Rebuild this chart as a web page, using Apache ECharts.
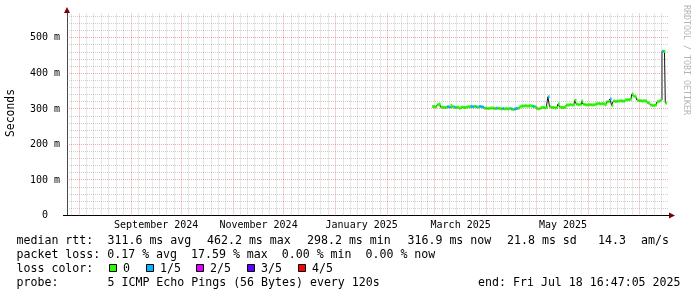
<!DOCTYPE html>
<html><head><meta charset="utf-8">
<script src="https://cdn.jsdelivr.net/npm/echarts@6/dist/echarts.min.js"></script>
<style>html,body{margin:0;padding:0;background:#fff}#c{width:697px;height:297px}</style>
</head><body><div id="c"></div>
<script>
// ---- data ----
const axisStart = '2024-07-24T20:00:00Z';
const axisEnd = '2025-07-18T16:47:05Z';
const firstDate = '2025-02-28';
const medianRtt = [
 307,
 306,306,312,314,305,305,304,305,306,305,
 310,306,305,304,305,302,305,305,304,305,
 306,306,307,306,307,306,305,307,306,305,
 302,302,301,302,303,302,301,302,302,301,
 300,301,300,301,300,301,300,298.2,300,301,
 302,306,308,308,309,308,308,309,308,307,
 306,301,300,302,304,304,303,305,334,306,
 304,304,303,304,314,305,304,304,305,311,
 311,312,311,312,324,313,312,313,322,313,
 312,311,312,312,311,312,313,315,315,314,
 315,314,312,320,321,328,310,322,321,322,
 322,323,322,322,325,326,326,327,342,336,
 334,325,323,323,322,323,322,318,316,311,
 310,310,311,320,322,325,462.2,462,316.9
];
const lossOneFifthDates = ['2025-03-09','2025-03-10','2025-03-13','2025-03-23','2025-03-24','2025-03-26','2025-03-28','2025-03-29','2025-03-30',
  '2025-04-07','2025-04-11','2025-04-16','2025-04-18','2025-04-19','2025-04-29','2025-05-08','2025-06-14','2025-07-15'];
const yTickValues = [0,100,200,300,400,500];
const monthLabels = ['September 2024','November 2024','January 2025','March 2025','May 2025'];
const monthLabelStarts = ['2024-09-01','2024-11-01','2025-01-01','2025-03-01','2025-05-01'];
const lossLegendLabels = ['0','1/5','2/5','3/5','4/5'];
const lossColors = ['#26ff00','#00b8ff','#dd00ff','#5e00ff','#ff0000'];
const rttStats = ['median rtt:','311.6 ms avg','462.2 ms max','298.2 ms min','316.9 ms now','21.8 ms sd','14.3','am/s'];
const lossStatsLine = 'packet loss: 0.17 % avg  17.59 % max  0.00 % min  0.00 % now';
const probeText = ['probe:','5 ICMP Echo Pings (56 Bytes) every 120s'];
const endText = 'end: Fri Jul 18 16:47:05 2025';

// ---- helpers ----
const DAY = 86400000;
const t0 = Date.parse(axisStart);
const spanDays = (Date.parse(axisEnd) - t0) / DAY;
const dayOf = s => (Date.parse(s + 'T00:00:00Z') - t0) / DAY;
const dates = medianRtt.map((_, i) => new Date(Date.parse(firstDate + 'T00:00:00Z') + i * DAY).toISOString().slice(0, 10));
const lossIdx = dates.map(d => lossOneFifthDates.includes(d) ? 1 : 0);

const lineData = dates.map((d, i) => [dayOf(d), medianRtt[i]]);
const bandData = dates.map((d, i) => [dayOf(d), medianRtt[i], lossIdx[i]]);

// gridlines (month starts major; 7 subdivisions per month minor)
const majorX = [], minorX = [];
for (let y = 2024, m = 6; !(y === 2025 && m === 8); ) {
  const ms = Date.UTC(y, m, 1), me = Date.UTC(m === 11 ? y + 1 : y, (m + 1) % 12, 1);
  const a = (ms - t0) / DAY, b = (me - t0) / DAY;
  if (a > 0 && a < spanDays) majorX.push(a);
  for (let k = 1; k < 7; k++) { const v = a + (b - a) * k / 7; if (v > 0.3 && v < spanDays - 0.3) minorX.push(v); }
  m++; if (m === 12) { m = 0; y++; }
}
const yMax = 570;
const minorY = [], majorY = [];
for (let v = 20; v < yMax; v += 20) (v % 100 === 0 ? majorY : minorY).push(v);

const labelCenters = monthLabelStarts.map(s => {
  const [y, m] = s.split('-').map(Number);
  const a = (Date.UTC(y, m - 1, 1) - t0) / DAY, b = (Date.UTC(m === 12 ? y + 1 : y, m % 12, 1) - t0) / DAY;
  return (a + b) / 2;
});

const minorStyle = { color: 'rgba(128,128,128,0.38)', type: [1, 1], width: 1 };
const majorStyle = { color: 'rgba(224,80,80,0.5)', type: [1, 1], width: 1 };

const MONO = '"DejaVu Sans Mono"';
const chart = echarts.init(document.getElementById('c'), null, { renderer: 'canvas' });
const baseOption = {
  animation: false,
  backgroundColor: '#ffffff',
  grid: { left: 67, right: 28, top: 13, bottom: 81.5 },
  xAxis: {
    type: 'value', min: 0, max: spanDays,
    axisLine: { show: true, lineStyle: { color: '#000', width: 1 } },
    axisTick: { show: false },
    splitLine: { show: false },
    axisLabel: {
      customValues: labelCenters,
      formatter: v => { let best = 0; labelCenters.forEach((c, i) => { if (Math.abs(c - v) < Math.abs(labelCenters[best] - v)) best = i; }); return monthLabels[best]; },
      fontFamily: MONO, fontSize: 10, color: '#000', margin: 5, hideOverlap: false
    }
  },
  yAxis: {
    type: 'value', min: 0, max: yMax, interval: 100,
    axisLine: { show: true, lineStyle: { color: '#444', width: 1 } },
    axisTick: { show: false },
    splitLine: { show: false },
    axisLabel: {
      formatter: v => yTickValues.includes(v) ? (v === 0 ? '0\u00a0\u00a0' : v + ' m') : '',
      fontFamily: MONO, fontSize: 10, color: '#000', margin: 7
    }
  },
  series: [
    { type: 'line', name: 'grid', data: [], silent: true, z: 1,
      markLine: { silent: true, symbol: ['none', 'none'], label: { show: false }, animation: false, data: [] } },
    { type: 'line', name: 'median', data: lineData, step: 'middle', showSymbol: false, z: 3,
      lineStyle: { color: '#111', width: 1 } },
    { type: 'custom', name: 'loss', data: bandData, z: 4,
      renderItem: (params, api) => {
        const x = api.value(0), v = api.value(1), l = api.value(2);
        const p0 = api.coord([x - 0.5, v]), p1 = api.coord([x + 0.5, v]);
        return { type: 'rect', shape: { x: p0[0], y: p0[1] - 1.5, width: p1[0] - p0[0], height: 3 },
          style: { fill: lossColors[l] } };
      } }
  ]
};
chart.setOption(baseOption);

// snap gridlines onto pixel centres so the 1px dotted lines stay crisp
const snapX = v => { const px = chart.convertToPixel({ gridIndex: 0 }, [v, 0])[0]; return chart.convertFromPixel({ gridIndex: 0 }, [Math.floor(px) + 0.5, 0])[0]; };
const snapY = v => { const py = chart.convertToPixel({ gridIndex: 0 }, [0, v])[1]; return chart.convertFromPixel({ gridIndex: 0 }, [0, Math.floor(py) + 0.5])[1]; };
const gridLines = [];
minorX.forEach(v => gridLines.push({ xAxis: snapX(v), lineStyle: minorStyle }));
minorY.forEach(v => gridLines.push({ yAxis: snapY(v), lineStyle: minorStyle }));
majorX.forEach(v => gridLines.push({ xAxis: snapX(v), lineStyle: majorStyle }));
majorY.forEach(v => gridLines.push({ yAxis: snapY(v), lineStyle: majorStyle }));

// arrows, texts
const pEnd = chart.convertToPixel({ gridIndex: 0 }, [spanDays, 0]);
const pTop = chart.convertToPixel({ gridIndex: 0 }, [0, yMax]);
const txt = (text, x, y, size, extra) => ({ type: 'text', style: Object.assign({ text, x, y, font: size + 'px ' + MONO, fill: '#000', align: 'left', verticalAlign: 'middle' }, extra || {}) });
const graphics = [
  { type: 'polygon', shape: { points: [[pEnd[0], pEnd[1] - 3], [pEnd[0] + 6, pEnd[1]], [pEnd[0], pEnd[1] + 3]] }, style: { fill: '#7f0000' } },
  { type: 'polygon', shape: { points: [[pTop[0] - 3, pTop[1]], [pTop[0], pTop[1] - 6], [pTop[0] + 3, pTop[1]]] }, style: { fill: '#7f0000' } },
  { type: 'line', shape: { x1: pEnd[0] - 606, y1: Math.floor(pEnd[1]) + 0.5, x2: pTop[0], y2: Math.floor(pEnd[1]) + 0.5 }, style: { stroke: '#000', lineWidth: 1 } },
  { type: 'text', x: 11, y: 113, rotation: Math.PI / 2, style: { text: 'Seconds', x: 0, y: 0, font: '11.4px ' + MONO, fill: '#000', align: 'center', verticalAlign: 'middle' } },
  { type: 'text', x: 686, y: 60, rotation: -Math.PI / 2, style: { text: 'RRDTOOL / TOBI OETIKER', x: 0, y: 0, font: '8.3px ' + MONO, fill: '#b4b4b4', align: 'center', verticalAlign: 'middle' } }
];
const rttX = [16.5, 107.5, 207, 307, 407.5, 507, 598, 641];
rttStats.forEach((s, i) => graphics.push(txt(s, rttX[i], 241, 11.6)));
graphics.push(txt(lossStatsLine, 16.5, 255, 11.6));
graphics.push(txt('loss color:', 16.5, 269, 11.6));
const sqX = [109, 146, 196, 247, 298];
lossLegendLabels.forEach((s, i) => {
  graphics.push({ type: 'rect', shape: { x: sqX[i] + 0.5, y: 264.5, width: 7, height: 7 }, style: { fill: lossColors[i], stroke: '#000', lineWidth: 1 } });
  graphics.push(txt(s, sqX[i] + 14, 269, 11.6));
});
graphics.push(txt(probeText[0], 16.5, 283, 11.6));
graphics.push(txt(probeText[1], 107.5, 283, 11.6));
graphics.push(txt(endText, 680.5, 283, 11.6, { align: 'right' }));
chart.setOption({ series: [{ markLine: { data: gridLines } }], graphic: graphics });
</script>
</body></html>
